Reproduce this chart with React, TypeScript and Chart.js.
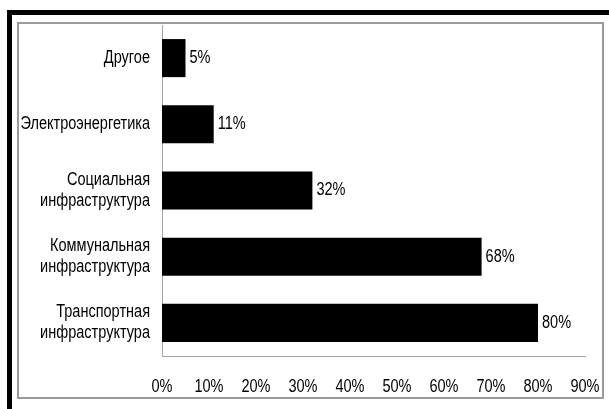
import React, { useEffect, useRef } from "react";
import { Chart, registerables } from "chart.js";

Chart.register(...registerables);

const categories: (string | string[])[] = [
  "Другое",
  "Электроэнергетика",
  ["Социальная", "инфраструктура"],
  ["Коммунальная", "инфраструктура"],
  ["Транспортная", "инфраструктура"],
];
const shares: number[] = [5, 11, 32, 68, 80];
const tickMax = 90;
const tickStep = 10;

const FONT = "'Liberation Sans', Arial, sans-serif";
const FS = 17.5;
const SQUEEZE = 0.83;

function narrowText(ctx: any, text: string, x: number, y: number, align: string) {
  ctx.save();
  ctx.translate(x, y);
  ctx.scale(SQUEEZE, 1);
  ctx.textAlign = align;
  ctx.fillText(text, 0, 0);
  ctx.restore();
}

const narrowLabels = {
  id: "narrowLabels",
  afterDraw(chart: any) {
    const ctx = chart.ctx;
    const xs = chart.scales.x;
    const ys = chart.scales.y;
    ctx.save();
    ctx.font = `${FS}px ${FONT}`;
    ctx.fillStyle = "#000";
    ctx.textBaseline = "middle";
    // category labels
    categories.forEach((lab, i) => {
      const lines = Array.isArray(lab) ? lab : [lab];
      const yc = ys.getPixelForValue(i);
      const lh = 21;
      lines.forEach((ln, k) => {
        const y = yc + (k - (lines.length - 1) / 2) * lh;
        narrowText(ctx, ln, ys.right - 12, y, "right");
      });
    });
    // x tick labels
    xs.ticks.forEach((t: any) => {
      const x = xs.getPixelForValue(t.value);
      narrowText(ctx, `${t.value}%`, x, xs.top + 31, "center");
    });
    // value labels
    const meta = chart.getDatasetMeta(0);
    meta.data.forEach((el: any, i: number) => {
      narrowText(ctx, `${shares[i]}%`, el.x + 4, el.y, "left");
    });
    ctx.restore();
  },
};

const zeroPad = (s: any) => {
  s.paddingTop = 0;
  s.paddingBottom = 0;
  s.paddingLeft = 0;
  s.paddingRight = 0;
};

export default function App() {
  const ref = useRef<HTMLCanvasElement>(null);

  useEffect(() => {
    document.body.style.margin = "0";
    const chart = new Chart(ref.current!, {
      type: "bar",
      data: {
        labels: categories,
        datasets: [
          {
            data: shares,
            backgroundColor: "#000",
            borderWidth: 0,
            barPercentage: 0.575,
            categoryPercentage: 1,
          },
        ],
      },
      options: {
        indexAxis: "y",
        animation: false,
        responsive: false,
        maintainAspectRatio: false,
        layout: { padding: { top: 25, right: 24, bottom: 0, left: 0 } },
        plugins: { legend: { display: false }, tooltip: { enabled: false } },
        scales: {
          x: {
            min: 0,
            max: tickMax,
            grid: { display: false, drawTicks: false },
            border: { display: true, color: "#a6a6a6", width: 1 },
            ticks: { stepSize: tickStep, display: false },
            afterFit: (s: any) => {
              s.height = 53;
              zeroPad(s);
            },
          },
          y: {
            grid: { display: false, drawTicks: false },
            border: { display: true, color: "#a6a6a6", width: 1 },
            ticks: { display: false },
            afterFit: (s: any) => {
              s.width = 162;
              zeroPad(s);
            },
          },
        },
      },
      plugins: [narrowLabels],
    });
    return () => chart.destroy();
  }, []);

  return (
    <div
      style={{
        position: "relative",
        width: 609,
        height: 409,
        overflow: "hidden",
        background: "#fff",
      }}
    >
      <div
        style={{
          position: "absolute",
          left: 7,
          top: 10,
          width: 700,
          height: 500,
          border: "5px solid #000",
          boxSizing: "border-box",
        }}
      />
      <div
        style={{
          position: "absolute",
          left: 17,
          top: 22,
          width: 587,
          height: 377,
          border: "2px solid #9a9a9a",
          boxSizing: "border-box",
        }}
      />
      <canvas
        ref={ref}
        width={609}
        height={409}
        style={{ position: "absolute", left: 0, top: 0 }}
      />
    </div>
  );
}
